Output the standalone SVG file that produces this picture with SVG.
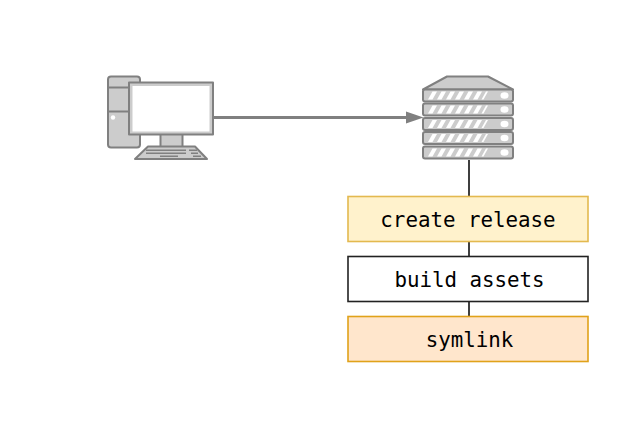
<svg xmlns="http://www.w3.org/2000/svg" width="620" height="437" viewBox="0 0 620 437">
<style>
.ic{stroke:#808080;stroke-width:2;fill:#cccccc;stroke-linejoin:round}
.t{font-family:"DejaVu Sans Mono",monospace;font-size:20.8px;text-anchor:middle;fill:#000}
.b{stroke-width:1.600}
.w{fill:#fff;stroke:none}
.k{fill:#808080;stroke:none}
</style>
<defs>
<g id="slab">
<rect class="ic" x="423" y="0" width="90" height="12" rx="2"/>
<path class="w" d="M428 10l4.500-8h4.500l-4.500 8zM437 10l4.500-8h4.500l-4.500 8zM446 10l4.500-8h4.500l-4.500 8zM455 10l4.500-8h4.500l-4.500 8zM464 10l4.500-8h4.500l-4.500 8zM473 10l4.500-8h4.500l-4.500 8zM481.500 10l4.500-8h2l-4.500 8z"/>
<ellipse class="w" cx="504.500" cy="6" rx="4" ry="3.200"/>
</g>
</defs>
<rect width="620" height="437" fill="#fff"/>
<g id="connectors">
<path d="M213 117.500H410" fill="none" stroke="#808080" stroke-width="2.800"/>
<path d="M423.500 117.500L406 111.500V123.500Z" fill="#808080"/>
<path d="M469 160V196M469 241.500V256.500M469 301.500V316.500" fill="none" stroke="#000" stroke-width="1.500"/>
</g>
<g id="computer">
<rect class="ic" x="108" y="76.500" width="32" height="71" rx="3"/>
<path class="ic" d="M108 87.500H130M108 111.500H130" fill="none"/>
<circle class="w" cx="113" cy="117.500" r="2.200"/>
<rect class="ic" x="160.500" y="134" width="22" height="13"/>
<path class="ic" d="M148 146.500H195L207 159H135Z"/>
<path class="k" d="M146 149.500H186V151H146ZM189 149.500H197V151H189ZM146 152.500H186V154H146ZM191 152.500H198V154H191ZM160 155.500H178V157H160ZM193 155.500H201V157H193Z"/>
<rect class="ic" x="129" y="82.500" width="84" height="52"/>
<rect class="w" x="132.500" y="86" width="77" height="45.500"/>
</g>
<g id="server">
<path class="ic" d="M423 89.500L447 76.500H488L513 89.500Z"/>
<use href="#slab" y="89.500"/>
<use href="#slab" y="103.500"/>
<use href="#slab" y="118"/>
<use href="#slab" y="132"/>
<use href="#slab" y="146.500"/>
</g>
<g id="create-release">
<rect class="b" x="348" y="196.500" width="240" height="45" fill="#fff2cc" stroke="#e3b94f"/>
<text class="t" x="468" y="227">create release</text>
</g>
<g id="build-assets">
<rect class="b" x="348" y="256.500" width="240" height="45" fill="#fff" stroke="#222"/>
<text class="t" x="469.500" y="287">build assets</text>
</g>
<g id="symlink">
<rect class="b" x="348" y="316.500" width="240" height="45" fill="#ffe6cc" stroke="#e0a21a"/>
<text class="t" x="469.500" y="347">symlink</text>
</g>
</svg>
